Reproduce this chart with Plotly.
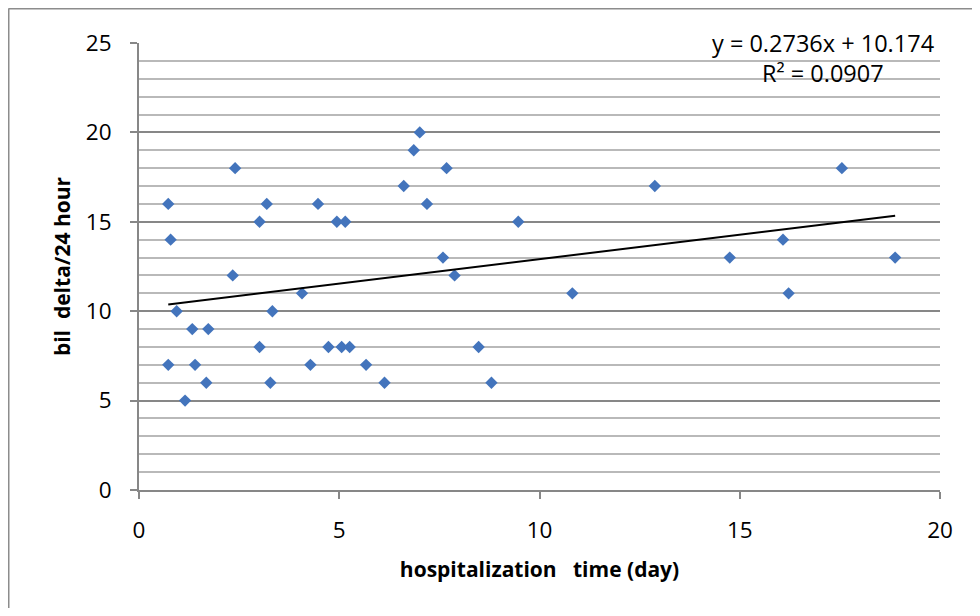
import plotly.graph_objects as go

# Data
hosp_days = [0.73, 0.79, 2.40, 3.19, 4.47, 3.01, 4.94, 5.15, 6.61, 6.86, 7.01, 7.19,
             2.34, 4.07, 0.94, 3.33, 1.33, 1.73, 3.01, 4.73, 5.06, 5.26, 0.73, 1.40,
             4.28, 5.67, 1.68, 3.28, 6.13, 1.15, 7.68, 12.88, 17.55, 9.47, 16.08, 7.59,
             14.75, 18.88, 7.88, 10.82, 16.22, 8.48, 8.80]
bil_delta = [16, 14, 18, 16, 16, 15, 15, 15, 17, 19, 20, 16,
             12, 11, 10, 10, 9, 9, 8, 8, 8, 8, 7, 7,
             7, 7, 6, 6, 6, 5, 18, 17, 18, 15, 14, 13,
             13, 13, 12, 11, 11, 8, 6]

trend_slope = 0.2736
trend_intercept = 10.174
trend_r2 = 0.0907

x_ticks = [0, 5, 10, 15, 20]
y_ticks = [0, 5, 10, 15, 20, 25]

x_lo, x_hi = min(hosp_days), max(hosp_days)
trend_x = [x_lo, x_hi]
trend_y = [trend_slope * v + trend_intercept for v in trend_x]

FONT = "Open Sans"
MAJOR = "#878787"
MINOR = "#b9b9b9"

fig = go.Figure()
fig.add_trace(go.Scatter(
    x=hosp_days, y=bil_delta, mode="markers",
    marker=dict(symbol="diamond", size=9.5, color="#4374BC", line=dict(width=0)),
    showlegend=False,
))
fig.add_trace(go.Scatter(
    x=trend_x, y=trend_y, mode="lines",
    line=dict(color="black", width=2),
    showlegend=False,
))

# page body has an 8px margin: figure is placed at (8, 8) in the window
W, H = 964, 600
L, T = 131, 35
R = W - 932
B = H - 482

fig.update_layout(
    width=W, height=H,
    margin=dict(l=L, r=R, t=T, b=B),
    paper_bgcolor="white", plot_bgcolor="white",
    font=dict(family=FONT, size=22.5, color="black"),
    xaxis=dict(
        range=[0, 20], tickvals=x_ticks, showgrid=False, zeroline=False,
        showline=True, linecolor=MAJOR, linewidth=2,
        ticks="outside", ticklen=7, tickwidth=2, tickcolor=MAJOR,
        ticklabelstandoff=12,
        title=dict(text="hospitalization\u00a0\u00a0\u00a0time (day)",
                   font=dict(family=FONT, size=21, weight="bold"), standoff=18),
    ),
    yaxis=dict(
        range=[0, 25], tickvals=y_ticks, showgrid=True, gridcolor=MAJOR, gridwidth=2,
        zeroline=False, showline=True, linecolor=MAJOR, linewidth=2,
        ticks="outside", ticklen=7, tickwidth=2, tickcolor=MAJOR,
        ticklabelstandoff=14,
        minor=dict(dtick=1, showgrid=True, gridcolor=MINOR, gridwidth=2, ticks=""),
        title=dict(text="bil\u00a0\u00a0delta/24 hour",
                   font=dict(family=FONT, size=21, weight="bold"), standoff=9),
    ),
)

pw, ph = W - L - R, H - T - B
eq_x = (815 - L) / pw
fig.add_annotation(
    xref="paper", yref="paper", x=eq_x, y=1.0,
    text=f"y = {trend_slope}x + {trend_intercept}", showarrow=False,
    xanchor="center", yanchor="middle", font=dict(family=FONT, size=23.5, color="black"),
)
fig.add_annotation(
    xref="paper", yref="paper", x=eq_x, y=(482 - 65) / ph,
    text=f"R\u00b2 = {trend_r2}", showarrow=False,
    xanchor="center", yanchor="middle", font=dict(family=FONT, size=23.5, color="black"),
)

# outer chart border: only its left and top edges fall inside the frame
bx = (0.5 - L) / pw
by = (482 - 0.5) / ph
fig.add_shape(type="line", xref="paper", yref="paper",
              x0=bx, x1=bx, y0=by, y1=(482 - H - 50) / ph,
              line=dict(color="#8c8c8c", width=2), layer="below")
fig.add_shape(type="line", xref="paper", yref="paper",
              x0=bx, x1=(W + 50 - L) / pw, y0=by, y1=by,
              line=dict(color="#8c8c8c", width=2), layer="below")

fig.write_html("out.html")
